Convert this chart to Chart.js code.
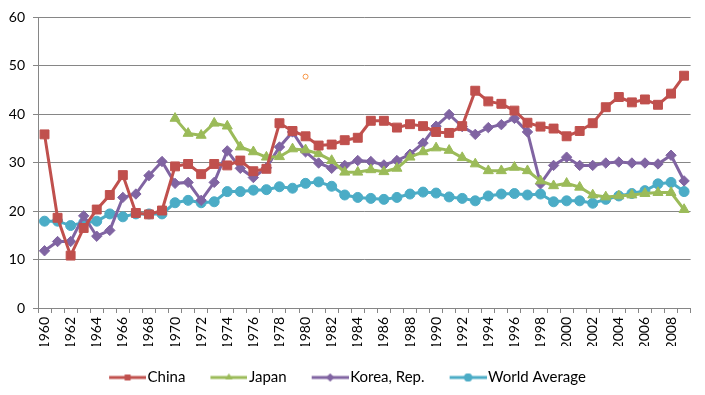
<!DOCTYPE html>
<html>
<head>
<meta charset="utf-8">
<script src="https://cdn.jsdelivr.net/npm/chart.js@4.4.0/dist/chart.umd.min.js"></script>
<style>
html, body { margin: 0; padding: 0; background: #fff; }
</style>
</head>
<body>
<canvas id="myChart" width="705" height="395"></canvas>
<script>
var years = ['1960','1961','1962','1963','1964','1965','1966','1967','1968','1969',
	'1970','1971','1972','1973','1974','1975','1976','1977','1978','1979',
	'1980','1981','1982','1983','1984','1985','1986','1987','1988','1989',
	'1990','1991','1992','1993','1994','1995','1996','1997','1998','1999',
	'2000','2001','2002','2003','2004','2005','2006','2007','2008','2009'];

var china = [35.8,18.6,10.8,16.5,20.3,23.3,27.4,19.6,19.3,20.1,
	29.2,29.7,27.6,29.7,29.4,30.4,28.2,28.7,38.1,36.5,
	35.4,33.5,33.7,34.6,35.1,38.6,38.6,37.2,37.9,37.5,
	36.3,36.1,37.5,44.8,42.6,42.1,40.7,38.2,37.4,37.0,
	35.4,36.5,38.1,41.4,43.5,42.4,43.0,41.9,44.2,47.9];

var japan = [null,null,null,null,null,null,null,null,null,null,
	39.1,36.0,35.6,38.1,37.5,33.2,32.2,31.1,31.2,32.8,
	32.6,31.8,30.4,28.0,28.0,28.5,28.1,28.8,31.1,32.2,
	33.0,32.5,31.0,29.7,28.3,28.3,29.0,28.3,26.2,25.2,
	25.7,24.9,23.3,22.9,23.1,23.3,23.6,23.8,23.8,20.3];

var korea = [11.8,13.7,13.7,19.0,14.8,16.0,22.8,23.5,27.3,30.2,
	25.7,25.9,22.2,25.9,32.4,28.8,26.9,28.9,33.2,36.3,
	32.2,29.9,28.8,29.4,30.4,30.2,29.5,30.4,31.7,34.0,
	37.5,39.9,37.4,35.8,37.2,37.8,39.1,36.3,25.6,29.4,
	31.1,29.4,29.4,29.9,30.1,29.9,29.9,29.7,31.5,26.2];

var world = [17.9,17.9,17.0,17.6,17.9,19.4,18.8,19.4,19.4,19.4,
	21.7,22.2,21.7,21.9,24.0,24.0,24.3,24.4,25.0,24.7,
	25.7,26.0,25.1,23.3,22.8,22.6,22.4,22.8,23.5,23.9,
	23.7,22.9,22.6,22.1,23.1,23.5,23.6,23.3,23.5,21.9,
	22.1,22.1,21.6,22.4,23.1,23.6,24.2,25.6,25.9,24.0];

// stray hollow marker seen near 1980
var stray = [null,null,null,null,null,null,null,null,null,null,
	null,null,null,null,null,null,null,null,null,null,
	47.7,null,null,null,null,null,null,null,null,null,
	null,null,null,null,null,null,null,null,null,null,
	null,null,null,null,null,null,null,null,null,null];

var seriesNames = ['China', 'Japan', 'Korea, Rep.', 'World Average'];
var yTicks = [0, 10, 20, 30, 40, 50, 60];

var colors = ['#C0504D', '#9BBB59', '#8064A2', '#4BACC6'];
var styles = ['rect', 'triangle', 'rectRot', 'circle'];
var radii = [6.3, 5.8, 5.2, 5];

// legend icon: line with the marker in the middle
function makeIcon(color, style) {
	var c = document.createElement('canvas');
	c.width = 44; c.height = 14;
	var g = c.getContext('2d');
	g.strokeStyle = color;
	g.fillStyle = color;
	g.lineWidth = 3;
	g.beginPath();
	g.moveTo(7, 7); g.lineTo(44, 7);
	g.stroke();
	Chart.helpers.drawPoint(g, {pointStyle: style, radius: 4, rotation: 0, borderWidth: 0}, 25.5, 7);
	g.fill();
	return c;
}
var icons = colors.map(function(c, i) { return makeIcon(c, styles[i]); });

var allData = [china, japan, korea, world];
var datasets = allData.map(function(d, i) {
	return {
		label: seriesNames[i],
		data: d,
		borderColor: colors[i],
		backgroundColor: colors[i],
		borderWidth: 3,
		pointStyle: styles[i],
		pointRadius: radii[i],
		pointBorderWidth: 1,
		pointBorderColor: colors[i],
		pointBackgroundColor: colors[i],
		tension: 0
	};
});
datasets.push({
	label: '',
	data: stray,
	showLine: false,
	pointStyle: 'circle',
	pointRadius: 2.5,
	pointBorderWidth: 1,
	pointBorderColor: '#F79646',
	pointBackgroundColor: '#ffffff'
});

var ctx = document.getElementById('myChart').getContext('2d');

var myChart = new Chart(ctx, {
	type: 'line',
	data: {
		labels: years,
		datasets: datasets
	},
	options: {
		responsive: false,
		animation: false,
		devicePixelRatio: 1,
		layout: { padding: { left: 0, right: 11, top: 17, bottom: 0 } },
		plugins: {
			tooltip: { enabled: false },
			legend: {
				position: 'bottom',
				labels: {
					usePointStyle: true,
					pointStyleWidth: 32,
					padding: 24,
					color: '#000',
					font: { family: 'Lato', size: 15 },
					generateLabels: function(chart) {
						return chart.data.datasets.map(function(ds, i) {
							return {
								text: ds.label,
								pointStyle: icons[i],
								fillStyle: ds.borderColor,
								strokeStyle: ds.borderColor,
								lineWidth: 0,
								hidden: false,
								datasetIndex: i,
								fontColor: '#000'
							};
						}).filter(function(it) { return it.text; });
					}
				}
			}
		},
		scales: {
			x: {
				offset: true,
				afterFit: function(s) { s.height = 38; },
				grid: { drawOnChartArea: false, offset: true, tickLength: 5, color: '#868686' },
				border: { color: '#868686' },
				ticks: {
					autoSkip: false,
					maxRotation: 90,
					minRotation: 90,
					padding: 4,
					color: '#000',
					font: { family: 'Lato', size: 14 },
					callback: function(v, i) { return i % 2 === 0 ? years[i] : ''; }
				}
			},
			y: {
				min: yTicks[0],
				max: yTicks[yTicks.length - 1],
				afterFit: function(s) { s.width = 38; },
				afterBuildTicks: function(s) { s.ticks = yTicks.map(function(v) { return {value: v}; }); },
				grid: { color: '#868686', tickLength: 5 },
				border: { color: '#868686' },
				ticks: {
					padding: 8,
					color: '#000',
					font: { family: 'Lato', size: 14 }
				}
			}
		}
	}
});
</script>
</body>
</html>
